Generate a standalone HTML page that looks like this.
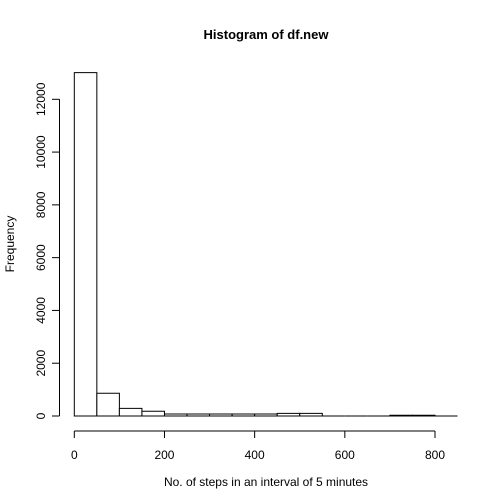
<!DOCTYPE html>
<html><head><meta charset="utf-8"><style>body{margin:0;background:#fff}svg{display:block;font-family:"Liberation Sans",Arial,sans-serif}</style></head>
<body>
<svg width="504" height="504" viewBox="0 0 504 504" xmlns="http://www.w3.org/2000/svg">
<text x="266" y="39" text-anchor="middle" font-size="13" font-weight="bold">Histogram of df.new</text>
<text x="266" y="486" text-anchor="middle" font-size="12">No. of steps in an interval of 5 minutes</text>
<text transform="translate(14,244) rotate(-90)" text-anchor="middle" font-size="12">Frequency</text>
<g id="bars"></g>
<g id="xaxis"></g>
<g id="yaxis"></g>
</svg>
<script>
const binEdges=[0,50,100,150,200,250,300,350,400,450,500,550,600,650,700,750,800,850];
const counts=[13010,860,290,180,75,75,75,75,75,100,100,0,0,0,30,30,0];
const xTicks=[0,200,400,600,800];
const yTicks=[0,2000,4000,6000,8000,10000,12000];
const NS="http://www.w3.org/2000/svg";
const X=v=>74.3+v*(435-74.3)/800;
const Y=v=>416-v*(416-99.3)/12000;
function mk(t,a,p){const e=document.createElementNS(NS,t);for(const k in a)e.setAttribute(k,a[k]);p.appendChild(e);return e;}
const bars=document.getElementById('bars');
counts.forEach((c,i)=>{
 const x0=X(binEdges[i]),x1=X(binEdges[i+1]),y0=Y(0),y1=Y(c);
 const r=mk('path',{d:`M${x0},${y0}L${x0},${y1}L${x1},${y1}L${x1},${y0}Z`,fill:'#fff',stroke:'#000','stroke-width':1},bars);
 
 
});
const xa=document.getElementById('xaxis');
mk('line',{x1:X(0),x2:X(800),y1:431,y2:431,stroke:'#000'},xa);
xTicks.forEach(v=>{
 mk('line',{x1:X(v),x2:X(v),y1:431,y2:438,stroke:'#000'},xa);
 const t=mk('text',{x:X(v),y:459,'text-anchor':'middle','font-size':12},xa);t.textContent=v;
 
 
});
const ya=document.getElementById('yaxis');
mk('line',{x1:59.5,x2:59.5,y1:Y(0),y2:Y(12000),stroke:'#000'},ya);
yTicks.forEach(v=>{
 mk('line',{x1:52,x2:59.5,y1:Y(v),y2:Y(v),stroke:'#000'},ya);
 const t=mk('text',{transform:`translate(45,${Y(v)}) rotate(-90)`,'text-anchor':'middle','font-size':12},ya);t.textContent=v;
 
 
});
</script>
</body></html>
